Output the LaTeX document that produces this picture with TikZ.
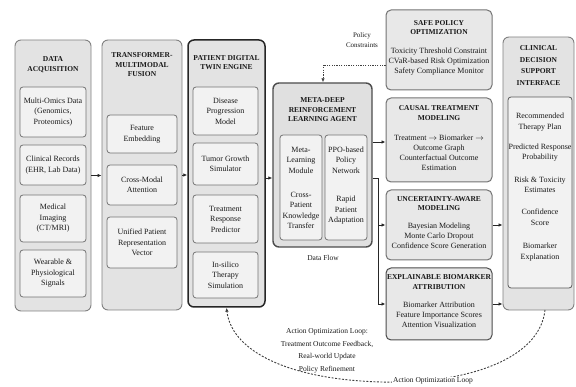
\documentclass[tikz,border=0pt]{standalone}
\usepackage{fontspec}
\setmainfont{Liberation Serif}
\usetikzlibrary{arrows.meta}
\begin{document}
\begin{tikzpicture}[x=1pt,y=-1pt,
  outerbox/.style={draw=black!50, fill=black!11, rounded corners=6pt, line width=0.9pt, inner sep=0pt},
  innerbox/.style={draw=black!55, fill=black!5, rounded corners=3pt, line width=0.8pt, inner sep=0pt},
  modbox/.style={draw=black!55, fill=black!9, rounded corners=5pt, line width=1pt, inner sep=0pt, minimum width=106pt},
  ttl/.style={font=\fontsize{7.5}{9.5}\selectfont\bfseries, align=center, inner sep=0pt, text=black!90},
  body/.style={font=\fontsize{8}{10.5}\selectfont, align=center, inner sep=0pt, text=black!90},
  mbody/.style={font=\fontsize{8}{10}\selectfont, align=center, inner sep=0pt, text=black!90},
  small/.style={font=\fontsize{7.5}{10}\selectfont, align=center, inner sep=0pt, text=black!90},
  arr/.style={-{Latex[length=4pt,width=3.5pt]}, line width=0.8pt, draw=black!85},
  plainline/.style={line width=0.8pt, draw=black!85},
  loopline/.style={-{Latex[length=4pt,width=3.5pt]}, line width=0.9pt, draw=black!75, dash pattern=on 2pt off 1.5pt},
  dotline/.style={-{Latex[length=4pt,width=3.5pt]}, line width=0.9pt, draw=black!75, dash pattern=on 1.2pt off 1.2pt}
]
\useasboundingbox (0,0) rectangle (576,387);

% ---------- Data Acquisition ----------
\node[outerbox, minimum width=76pt, minimum height=271pt] (da) at (53,175.5) {};
\node[ttl] (daT) at (53,64.5) {DATA\\ACQUISITION};
\node[innerbox, minimum width=66pt, minimum height=50pt] (da1) at (53,112) {};
\node[body] (da1t) at (da1) {Multi-Omics Data\\(Genomics,\\Proteomics)};
\node[innerbox, minimum width=66pt, minimum height=40pt] (da2) at (53,165) {};
\node[body] (da2t) at (da2) {Clinical Records\\(EHR, Lab Data)};
\node[innerbox, minimum width=66pt, minimum height=47pt] (da3) at (53,218.5) {};
\node[body] (da3t) at (da3) {Medical\\Imaging\\(CT/MRI)};
\node[innerbox, minimum width=66pt, minimum height=47pt] (da4) at (53,273.5) {};
\node[body] (da4t) at (da4) {Wearable \&\\Physiological\\Signals};

% ---------- Transformer Fusion ----------
\node[outerbox, minimum width=80pt, minimum height=270pt] (tf) at (142,175) {};
\node[ttl] (tfT) at (142,65) {TRANSFORMER-\\MULTIMODAL\\FUSION};
\node[innerbox, minimum width=70pt, minimum height=38pt] (tf1) at (142,134) {};
\node[body] (tf1t) at (tf1) {Feature\\Embedding};
\node[innerbox, minimum width=70pt, minimum height=40pt] (tf2) at (142,185) {};
\node[body] (tf2t) at (tf2) {Cross-Modal\\Attention};
\node[innerbox, minimum width=70pt, minimum height=51pt] (tf3) at (142,242.5) {};
\node[body] (tf3t) at (tf3) {Unified Patient\\Representation\\Vector};

% ---------- Digital Twin ----------
\node[outerbox, draw=black!85, line width=1.5pt, minimum width=77pt, minimum height=267pt] (dt) at (226.5,173.5) {};
\node[ttl] (dtT) at (226.5,62.5) {PATIENT DIGITAL\\TWIN ENGINE};
\node[innerbox, minimum width=65pt, minimum height=48pt] (dt1) at (225.5,111) {};
\node[body] (dt1t) at (dt1) {Disease\\Progression\\Model};
\node[innerbox, minimum width=65pt, minimum height=42pt] (dt2) at (225.5,164) {};
\node[body] (dt2t) at (dt2) {Tumor Growth\\Simulator};
\node[innerbox, minimum width=65pt, minimum height=48pt] (dt3) at (225.5,219) {};
\node[body] (dt3t) at (dt3) {Treatment\\Response\\Predictor};
\node[innerbox, minimum width=65pt, minimum height=46pt] (dt4) at (225.5,275) {};
\node[body] (dt4t) at (dt4) {In-silico\\Therapy\\Simulation};

% ---------- Meta-DRL Agent ----------
\node[outerbox, draw=black!70, line width=1.4pt, fill=black!12, minimum width=99pt, minimum height=164pt] (ag) at (322.5,165) {};
\node[ttl] (agT) at (322.5,110) {META-DEEP\\REINFORCEMENT\\LEARNING AGENT};
\node[innerbox, minimum width=42pt, minimum height=105pt] (agL) at (301,187.5) {};
\node[body] (agL1) at (301,160) {Meta-\\Learning\\Module};
\node[body] (agL2) at (301,210.5) {Cross-\\Patient\\Knowledge\\Transfer};
\node[innerbox, minimum width=42pt, minimum height=105pt] (agR) at (346,187.5) {};
\node[body] (agR1) at (346,160) {PPO-based\\Policy\\Network};
\node[body] (agR2) at (346,210.5) {Rapid\\Patient\\Adaptation};
\node[small] (dflow) at (323,258) {Data Flow};

% ---------- Right modules ----------
\node[modbox, minimum height=80pt] (sf) at (439,50) {};
\node[ttl] (sfT) at (439,27.5) {SAFE POLICY\\OPTIMIZATION};
\node[mbody] (sfB) at (439,62) {Toxicity Threshold Constraint\\CVaR-based Risk Optimization\\Safety Compliance Monitor};

\node[modbox, minimum height=84pt] (ca) at (439,140) {};
\node[ttl] (caT) at (439,113) {CAUSAL TREATMENT\\MODELING};
\node[mbody] (caB) at (439,153) {Treatment $\rightarrow$ Biomarker $\rightarrow$\\Outcome Graph\\Counterfactual Outcome\\Estimation};

\node[modbox, minimum height=70pt] (un) at (439,225) {};
\node[ttl] (unT) at (439,203.5) {UNCERTAINTY-AWARE\\MODELING};
\node[mbody] (unB) at (439,235.5) {Bayesian Modeling\\Monte Carlo Dropout\\Confidence Score Generation};

\node[modbox, draw=black!70, minimum height=72pt] (ex) at (439,304) {};
\node[ttl] (exT) at (439,282) {EXPLAINABLE BIOMARKER\\ATTRIBUTION};
\node[mbody] (exB) at (439,315) {Biomarker Attribution\\Feature Importance Scores\\Attention Visualization};

% ---------- Clinical Decision Support ----------
\node[outerbox, minimum width=71pt, minimum height=273pt] (cds) at (538.5,173.5) {};
\node[ttl, font=\fontsize{7.5}{11.5}\selectfont\bfseries] (cdsT) at (538.5,65.5) {CLINICAL\\DECISION\\SUPPORT\\INTERFACE};
\node[innerbox, draw=black!65, minimum width=64pt, minimum height=191pt] (cdsI) at (540,192.5) {};
\node[body] (c1) at (540,122) {Recommended\\Therapy Plan};
\node[body] (c2) at (540,152.5) {Predicted Response\\Probability};
\node[body] (c3) at (540,185) {Risk \& Toxicity\\Estimates};
\node[body] (c4) at (540,217) {Confidence\\Score};
\node[body] (c5) at (540,252) {Biomarker\\Explanation};

% ---------- Connectors ----------
\draw[arr] (da.east) -- (da.east -| tf.west);
\draw[arr] (tf.east) -- (tf.east -| dt.west);
\coordinate (dtA) at (265,178);
\draw[arr] (dt.east |- dtA) -- (ag.west |- dtA);
\coordinate (caA) at (372,142);
\draw[arr] (ag.east |- caA) -- (ca.west |- caA);
\coordinate (bus) at (378,178);
\draw[arr] (ag.east |- bus) -- (bus) |- (ex.west);
\draw[arr] (bus |- un.west) -- (un.west);
\draw[arr] (un.east) -- (un.east -| cds.west);
\draw[arr] (ex.east) -- (ex.east -| cds.west);

% Policy constraints
\coordinate (pc) at (323,65);
\draw[dotline] (sf.west |- pc) -- (pc) -- (pc |- ag.north);
\node[small, font=\fontsize{7}{10}\selectfont] (pcl) at (362,40) {Policy\\Constraints};

% Action optimization loop
\coordinate (lpS) at (545,310);
\coordinate (lpM) at (410,382);
\draw[loopline] (lpS) .. controls (540,355) and (480,378) .. (lpM) .. controls (300,385) and (232,355) .. (dt.south);
\node[small, fill=white, inner sep=1pt] (lpl) at (433,381) {Action Optimization Loop};
\node[small, font=\fontsize{7.5}{12.5}\selectfont] (loopT) at (327,351) {Action Optimization Loop:\\Treatment Outcome Feedback,\\Real-world Update\\Policy Refinement};
\end{tikzpicture}
\end{document}
